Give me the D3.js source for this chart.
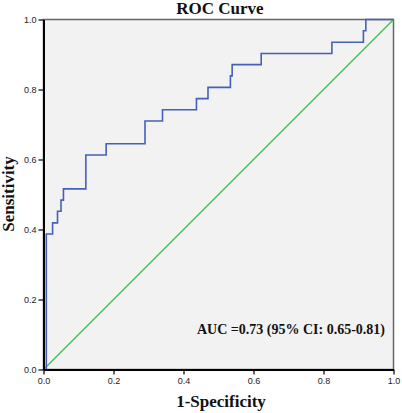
<!DOCTYPE html>
<html lang="en">
  <head>
    <meta charset="utf-8">
    <title>ROC Curve</title>
    <style>
      body { margin: 0; background: #fff; }
      .tick text { font-family: "Liberation Sans", Arial, sans-serif; font-size: 9px; fill: #222; }
      .lbl { font-family: "Liberation Serif", "Times New Roman", serif; font-weight: bold; fill: #111; }
    </style>
  </head>
  <body>
    <svg class="chart"></svg>
    <script src="https://d3js.org/d3.v7.min.js"></script>
    <script>
    // step vertices of the ROC curve
    const fpr = [0, 0.008, 0.008, 0.026, 0.026, 0.040, 0.040, 0.050, 0.050, 0.057, 0.057, 0.121, 0.121,
                 0.179, 0.179, 0.290, 0.290, 0.340, 0.340, 0.437, 0.437, 0.470, 0.470, 0.534, 0.534,
                 0.539, 0.539, 0.622, 0.622, 0.824, 0.824, 0.914, 0.914, 0.921, 0.921, 1.0];
    const tpr = [0, 0, 0.387, 0.387, 0.419, 0.419, 0.452, 0.452, 0.484, 0.484, 0.516, 0.516, 0.613,
                 0.613, 0.645, 0.645, 0.710, 0.710, 0.742, 0.742, 0.774, 0.774, 0.806, 0.806, 0.839,
                 0.839, 0.871, 0.871, 0.903, 0.903, 0.935, 0.935, 0.968, 0.968, 1.0, 1.0];
    const refLine = [0, 1];
    const ticks = [0, 0.2, 0.4, 0.6, 0.8, 1.0];

    const W = 402, H = 413;
    const margins = { left: 43.5, right: 8.5, top: 19.5, bottom: 43.5 };
    const svg = d3.select(".chart").attr("width", W).attr("height", H);

    const xScale = d3.scaleLinear().domain([0, 1]).range([margins.left, W - margins.right]);
    const yScale = d3.scaleLinear().domain([0, 1]).range([H - margins.bottom, margins.top]);

    // plot background + top/right frame
    svg.append("rect")
      .attr("x", xScale(0)).attr("y", yScale(1))
      .attr("width", xScale(1) - xScale(0)).attr("height", yScale(0) - yScale(1))
      .style("fill", "#f2f2f2").style("stroke", "#666").style("stroke-width", 1.5);

    // reference diagonal
    svg.append("line")
      .attr("x1", xScale(refLine[0])).attr("y1", yScale(refLine[0]))
      .attr("x2", xScale(refLine[1])).attr("y2", yScale(refLine[1]))
      .style("stroke", "#3dba4e").style("stroke-width", 1.3);

    // roc curve
    const pts = fpr.map((d, i) => [d, tpr[i]]);
    svg.append("path")
      .datum(pts)
      .attr("d", d3.line().x(d => xScale(d[0])).y(d => yScale(d[1])))
      .style("fill", "none").style("stroke", "#4560b8").style("stroke-width", 1.6);

    const fmt = d3.format(".1f");
    const xAxis = d3.axisBottom(xScale).tickValues(ticks).tickFormat(fmt).tickSize(5).tickSizeOuter(0).tickPadding(3);
    const yAxis = d3.axisLeft(yScale).tickValues(ticks).tickFormat(fmt).tickSize(5).tickSizeOuter(0).tickPadding(2);
    const gx = svg.append("g")
      .attr("transform", "translate(0," + yScale(0) + ")")
      .call(xAxis);
    const gy = svg.append("g")
      .attr("transform", "translate(" + xScale(0) + ",0)")
      .call(yAxis);
    [gx, gy].forEach(g => {
      g.select(".domain").style("stroke", "#000").style("stroke-width", 2);
      g.selectAll(".tick line").style("stroke", "#000").style("stroke-width", 1.2);
    });

    svg.append("text").attr("class", "lbl")
      .attr("x", 220).attr("y", 14)
      .attr("text-anchor", "middle").style("font-size", "17px")
      .text("ROC Curve");

    svg.append("text").attr("class", "lbl")
      .attr("x", 221).attr("y", 407)
      .attr("text-anchor", "middle").style("font-size", "17px")
      .text("1-Specificity");

    svg.append("text").attr("class", "lbl")
      .attr("transform", "translate(14,194) rotate(-90)")
      .attr("text-anchor", "middle").style("font-size", "17px")
      .text("Sensitivity");

    svg.append("text").attr("class", "lbl")
      .attr("x", 385).attr("y", 334)
      .attr("text-anchor", "end").style("font-size", "14px")
      .text("AUC =0.73 (95% CI: 0.65-0.81)");
    </script>
  </body>
</html>
